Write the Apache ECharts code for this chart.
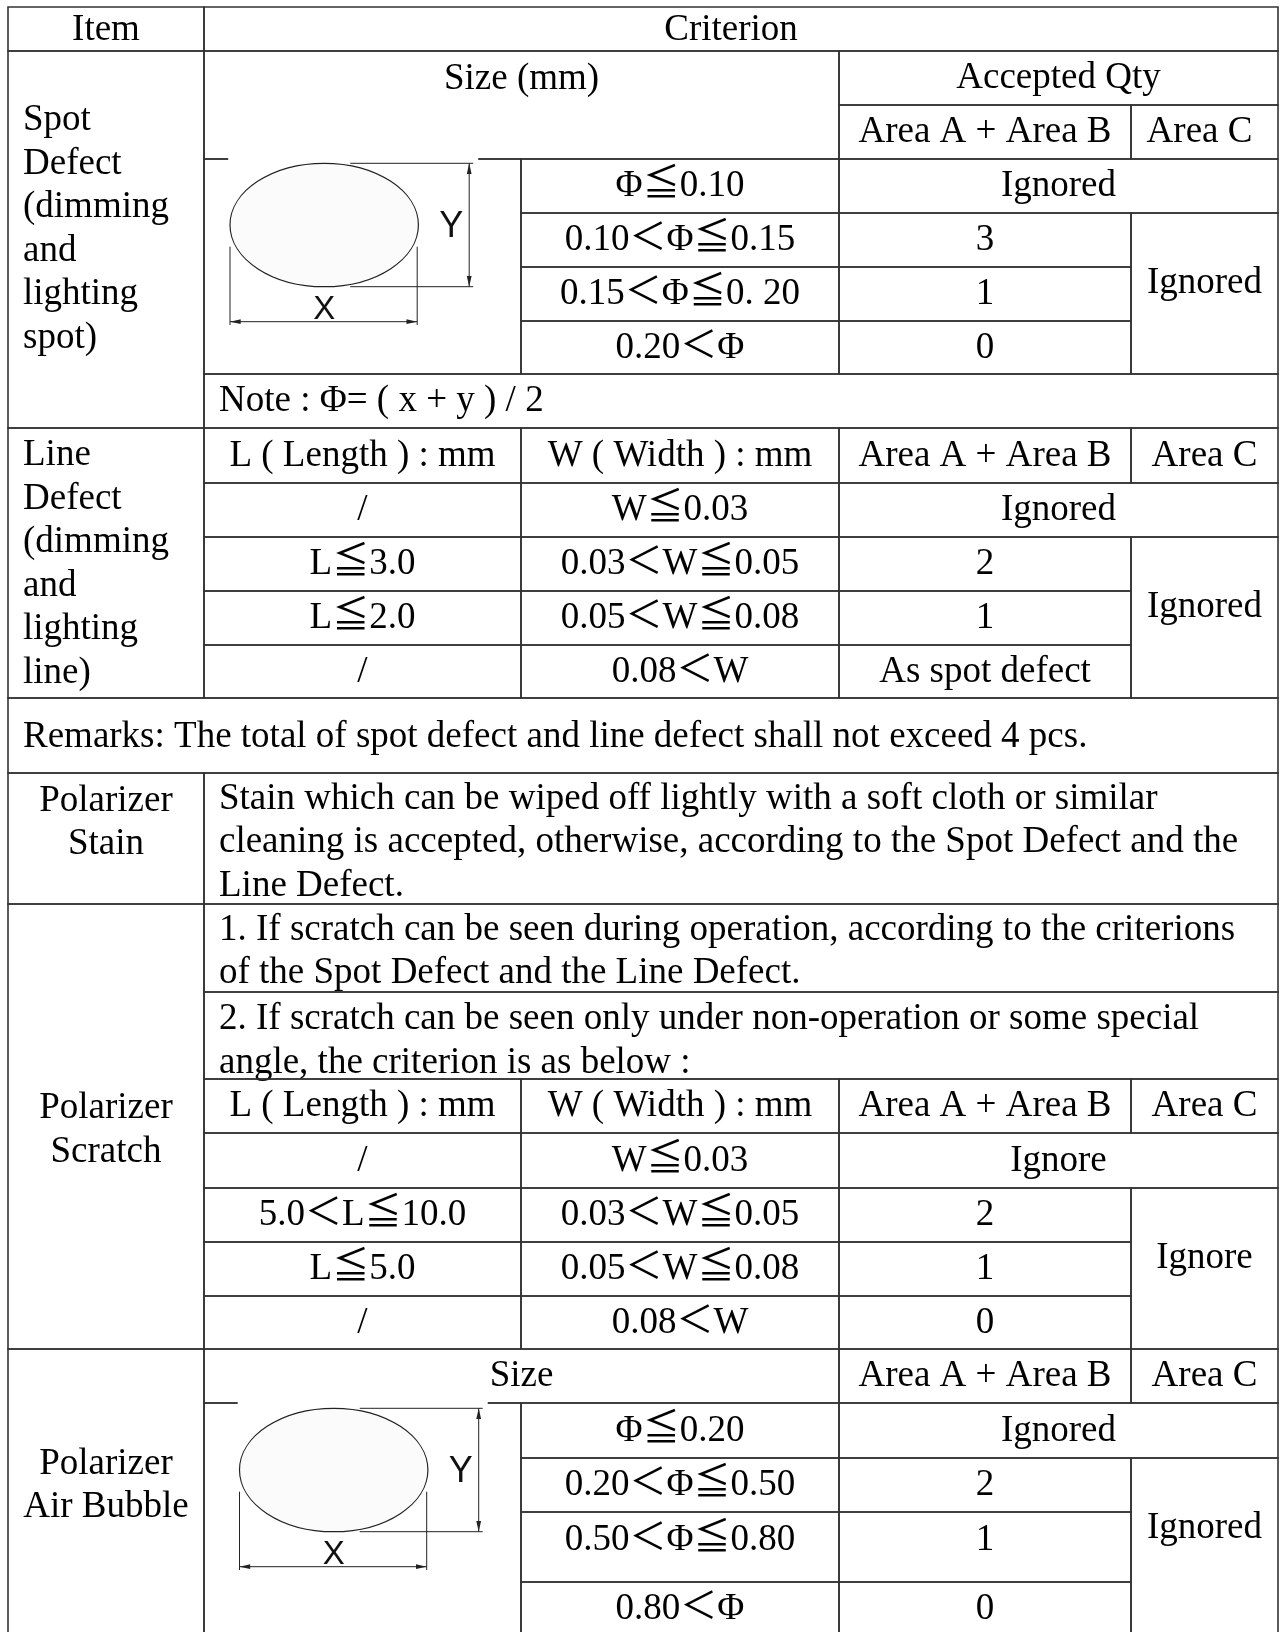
<!DOCTYPE html>
<html>
<head>
<meta charset="utf-8">
<script src="https://cdn.jsdelivr.net/npm/echarts@6/dist/echarts.min.js"></script>
<style>
html,body{margin:0;padding:0;background:#fff;}
#main{width:1280px;height:1632px;}
</style>
</head>
<body>
<div id="main"></div>
<script>
// ---------------- table content (text values) ----------------
const items = ['Item', 'Spot\nDefect\n(dimming\nand\nlighting\nspot)', 'Line\nDefect\n(dimming\nand\nlighting\nline)', 'Polarizer\nStain', 'Polarizer\nScratch', 'Polarizer\nAir Bubble'];
const headers = { criterion: 'Criterion', size: 'Size (mm)', accepted: 'Accepted Qty', areaAB: 'Area A + Area B', areaC: 'Area C', length: 'L ( Length ) : mm', width: 'W ( Width ) : mm', bubbleSize: 'Size' };
const spotSizes = ['Φ≦0.10', '0.10＜Φ≦0.15', '0.15＜Φ≦0. 20', '0.20＜Φ'];
const spotQtyAB = ['Ignored', '3', '1', '0'];
const spotQtyC = 'Ignored';
const spotNote = 'Note : Φ= ( x + y ) / 2';
const lineLengths = ['/', 'L≦3.0', 'L≦2.0', '/'];
const lineWidths = ['W≦0.03', '0.03＜W≦0.05', '0.05＜W≦0.08', '0.08＜W'];
const lineQtyAB = ['Ignored', '2', '1', 'As spot defect'];
const lineQtyC = 'Ignored';
const remarks = 'Remarks: The total of spot defect and line defect shall not exceed 4 pcs.';
const stainLines = ['Stain which can be wiped off lightly with a soft cloth or similar', 'cleaning is accepted, otherwise, according to the Spot Defect and the', 'Line Defect.'];
const scratchNote1 = ['1. If scratch can be seen during operation, according to the criterions', 'of the Spot Defect and the Line Defect.'];
const scratchNote2 = ['2. If scratch can be seen only under non-operation or some special', 'angle, the criterion is as below :'];
const scratchLengths = ['/', '5.0＜L≦10.0', 'L≦5.0', '/'];
const scratchWidths = ['W≦0.03', '0.03＜W≦0.05', '0.05＜W≦0.08', '0.08＜W'];
const scratchQtyAB = ['Ignore', '2', '1', '0'];
const scratchQtyC = 'Ignore';
const bubbleSizes = ['Φ≦0.20', '0.20＜Φ≦0.50', '0.50＜Φ≦0.80', '0.80＜Φ'];
const bubbleQtyAB = ['Ignored', '2', '1', '0'];
const bubbleQtyC = 'Ignored';
const figureLabels = ['X', 'Y'];

// ---------------- layout (table grid in page units) ----------------
const colEdges = [8, 204, 521, 839, 1131, 1278];
const rowEdges = [7, 51, 105, 159, 213, 267, 321, 374, 428, 483, 537, 591, 645, 698, 773, 904, 992, 1079, 1133, 1188, 1242, 1296, 1349, 1403, 1458, 1512, 1582, 1636];
const figureCenters = [[324.2, 225], [333.7, 1470]];

const SERIF = '"Liberation Serif", "Noto Sans CJK SC", serif';
const SANS = '"Liberation Sans", Arial, sans-serif';
const FS = 37, LH = 43.5;

// ---------------- build cells ----------------
const cells = [];
function cell(c0, c1, r0, r1, text, opt) {
  cells.push(Object.assign({ c0, c1, r0, r1, text, align: 'center', dy: 0.5, dx: 0 }, opt || {}));
}
cell(0, 1, 0, 1, items[0], { dy: 1.5 });
cell(1, 5, 0, 1, headers.criterion, { dx: -10, dy: 1.5 });
// spot defect
cell(0, 1, 1, 8, items[1], { align: 'left', dy: -10 });
cell(1, 3, 1, 3, headers.size, { dy: -26 });
cell(3, 5, 1, 2, headers.accepted);
cell(3, 4, 2, 3, headers.areaAB);
cell(4, 5, 2, 3, headers.areaC, { dx: -5 });
cell(1, 2, 3, 7, '');
for (let i = 0; i < 4; i++) cell(2, 3, 3 + i, 4 + i, spotSizes[i]);
cell(3, 5, 3, 4, spotQtyAB[0]);
for (let i = 1; i < 4; i++) cell(3, 4, 3 + i, 4 + i, spotQtyAB[i]);
cell(4, 5, 4, 7, spotQtyC, { dy: -10 });
cell(1, 5, 7, 8, spotNote, { align: 'left' });
// line defect
cell(0, 1, 8, 13, items[2], { align: 'left', dy: 1.5 });
cell(1, 2, 8, 9, headers.length);
cell(2, 3, 8, 9, headers.width);
cell(3, 4, 8, 9, headers.areaAB);
cell(4, 5, 8, 9, headers.areaC);
for (let i = 0; i < 4; i++) { cell(1, 2, 9 + i, 10 + i, lineLengths[i]); cell(2, 3, 9 + i, 10 + i, lineWidths[i]); }
cell(3, 5, 9, 10, lineQtyAB[0]);
for (let i = 1; i < 4; i++) cell(3, 4, 9 + i, 10 + i, lineQtyAB[i]);
cell(4, 5, 10, 13, lineQtyC, { dy: -10 });
cell(0, 5, 13, 14, remarks, { align: 'left', dy: 1.5 });
// stain
cell(0, 1, 14, 15, items[3], { dy: -15.5 });
cell(1, 5, 14, 15, stainLines.join('\n'), { align: 'left', dy: 4 });
// scratch
cell(0, 1, 15, 22, items[4], { dy: 4 });
cell(1, 5, 15, 16, scratchNote1.join('\n'), { align: 'left', dy: 4 });
cell(1, 5, 16, 17, scratchNote2.join('\n'), { align: 'left', dy: 6 });
cell(1, 2, 17, 18, headers.length);
cell(2, 3, 17, 18, headers.width);
cell(3, 4, 17, 18, headers.areaAB);
cell(4, 5, 17, 18, headers.areaC);
for (let i = 0; i < 4; i++) { cell(1, 2, 18 + i, 19 + i, scratchLengths[i]); cell(2, 3, 18 + i, 19 + i, scratchWidths[i]); }
cell(3, 5, 18, 19, scratchQtyAB[0]);
for (let i = 1; i < 4; i++) cell(3, 4, 18 + i, 19 + i, scratchQtyAB[i]);
cell(4, 5, 19, 22, scratchQtyC, { dy: -10.5 });
// air bubble
cell(0, 1, 22, 27, items[5], { dy: -6.5 });
cell(1, 3, 22, 23, headers.bubbleSize);
cell(3, 4, 22, 23, headers.areaAB);
cell(4, 5, 22, 23, headers.areaC);
cell(1, 2, 23, 27, '');
for (let i = 0; i < 4; i++) cell(2, 3, 23 + i, 24 + i, bubbleSizes[i], i === 2 ? { dy: -7 } : {});
cell(3, 5, 23, 24, bubbleQtyAB[0]);
for (let i = 1; i < 4; i++) cell(3, 4, 23 + i, 24 + i, bubbleQtyAB[i], i === 2 ? { dy: -7 } : {});
cell(4, 5, 24, 27, bubbleQtyC, { dy: -19 });

const cellData = cells.map(c => [colEdges[c.c0], colEdges[c.c1], rowEdges[c.r0], rowEdges[c.r1]]);

function renderCell(params, api) {
  const c = cells[params.dataIndex];
  const p0 = api.coord([api.value(0), api.value(2)]);
  const p1 = api.coord([api.value(1), api.value(3)]);
  const x0 = Math.min(p0[0], p1[0]), x1 = Math.max(p0[0], p1[0]);
  const y0 = Math.min(p0[1], p1[1]), y1 = Math.max(p0[1], p1[1]);
  const children = [{
    type: 'rect',
    shape: { x: x0, y: y0, width: x1 - x0, height: y1 - y0 },
    style: { fill: null, stroke: '#333', lineWidth: 1.6 }
  }];
  if (c.text) {
    const tx = c.align === 'left' ? x0 + 15 : (x0 + x1) / 2 + c.dx;
    children.push({
      type: 'text',
      x: tx,
      y: (y0 + y1) / 2 + c.dy,
      style: {
        text: c.text, fill: '#000', fontSize: FS, fontFamily: SERIF,
        align: c.align, verticalAlign: 'middle', lineHeight: LH
      }
    });
  }
  return { type: 'group', children };
}

function renderFigure(params, api) {
  const cx = api.value(0), cy = api.value(1);
  const P = (dx, dy) => api.coord([cx + dx, cy + dy]);
  const c = P(0, 0);
  const e = P(94.2, 61.7);
  const rx = Math.abs(e[0] - c[0]), ry = Math.abs(e[1] - c[1]);
  const ln = (a, b) => ({ type: 'line', shape: { x1: a[0], y1: a[1], x2: b[0], y2: b[1] }, style: { stroke: '#222', lineWidth: 1 } });
  const tri = (pts) => ({ type: 'polygon', shape: { points: pts }, style: { fill: '#222' } });
  const bg0 = P(-96, -70), bg1 = P(154, 105);
  return {
    type: 'group',
    children: [
      { type: 'rect', shape: { x: bg0[0], y: bg0[1], width: bg1[0] - bg0[0], height: bg1[1] - bg0[1] }, style: { fill: '#fff' } },
      { type: 'ellipse', shape: { cx: c[0], cy: c[1], rx: rx, ry: ry }, style: { fill: '#fbfbfb', stroke: '#222', lineWidth: 1.2 } },
      ln(P(26, -61.7), P(149, -61.7)),
      ln(P(26, 61.7), P(149, 61.7)),
      ln(P(145, -61.7), P(145, 61.7)),
      tri([P(145, -61.7), P(142.6, -51), P(147.4, -51)]),
      tri([P(145, 61.7), P(142.6, 51), P(147.4, 51)]),
      ln(P(-94.2, 21.7), P(-94.2, 100)),
      ln(P(93, 21.7), P(93, 100)),
      ln(P(-94.2, 96.7), P(93, 96.7)),
      tri([P(-94.2, 96.7), P(-83.5, 94.3), P(-83.5, 99.1)]),
      tri([P(93, 96.7), P(82.3, 94.3), P(82.3, 99.1)]),
      { type: 'text', x: P(127, 0)[0], y: P(127, 2)[1], style: { text: figureLabels[1], fill: '#111', fontSize: 36, fontFamily: SANS, align: 'center', verticalAlign: 'middle' } },
      { type: 'text', x: P(0, 85)[0], y: P(0, 85)[1], style: { text: figureLabels[0], fill: '#111', fontSize: 33, fontFamily: SANS, align: 'center', verticalAlign: 'middle' } }
    ]
  };
}

const chart = echarts.init(document.getElementById('main'), null, { renderer: 'canvas' });
chart.setOption({
  animation: false,
  backgroundColor: '#fff',
  grid: { left: 0, right: 0, top: 0, bottom: 0, containLabel: false },
  xAxis: { type: 'value', min: 0, max: 1280, show: false },
  yAxis: { type: 'value', min: 0, max: 1632, inverse: true, show: false },
  series: [
    { type: 'custom', renderItem: renderCell, data: cellData, encode: { x: [0, 1], y: [2, 3] }, clip: false, silent: true, z: 2 },
    { type: 'custom', renderItem: renderFigure, data: figureCenters, encode: { x: 0, y: 1 }, clip: false, silent: true, z: 5 }
  ]
});
</script>
</body>
</html>
